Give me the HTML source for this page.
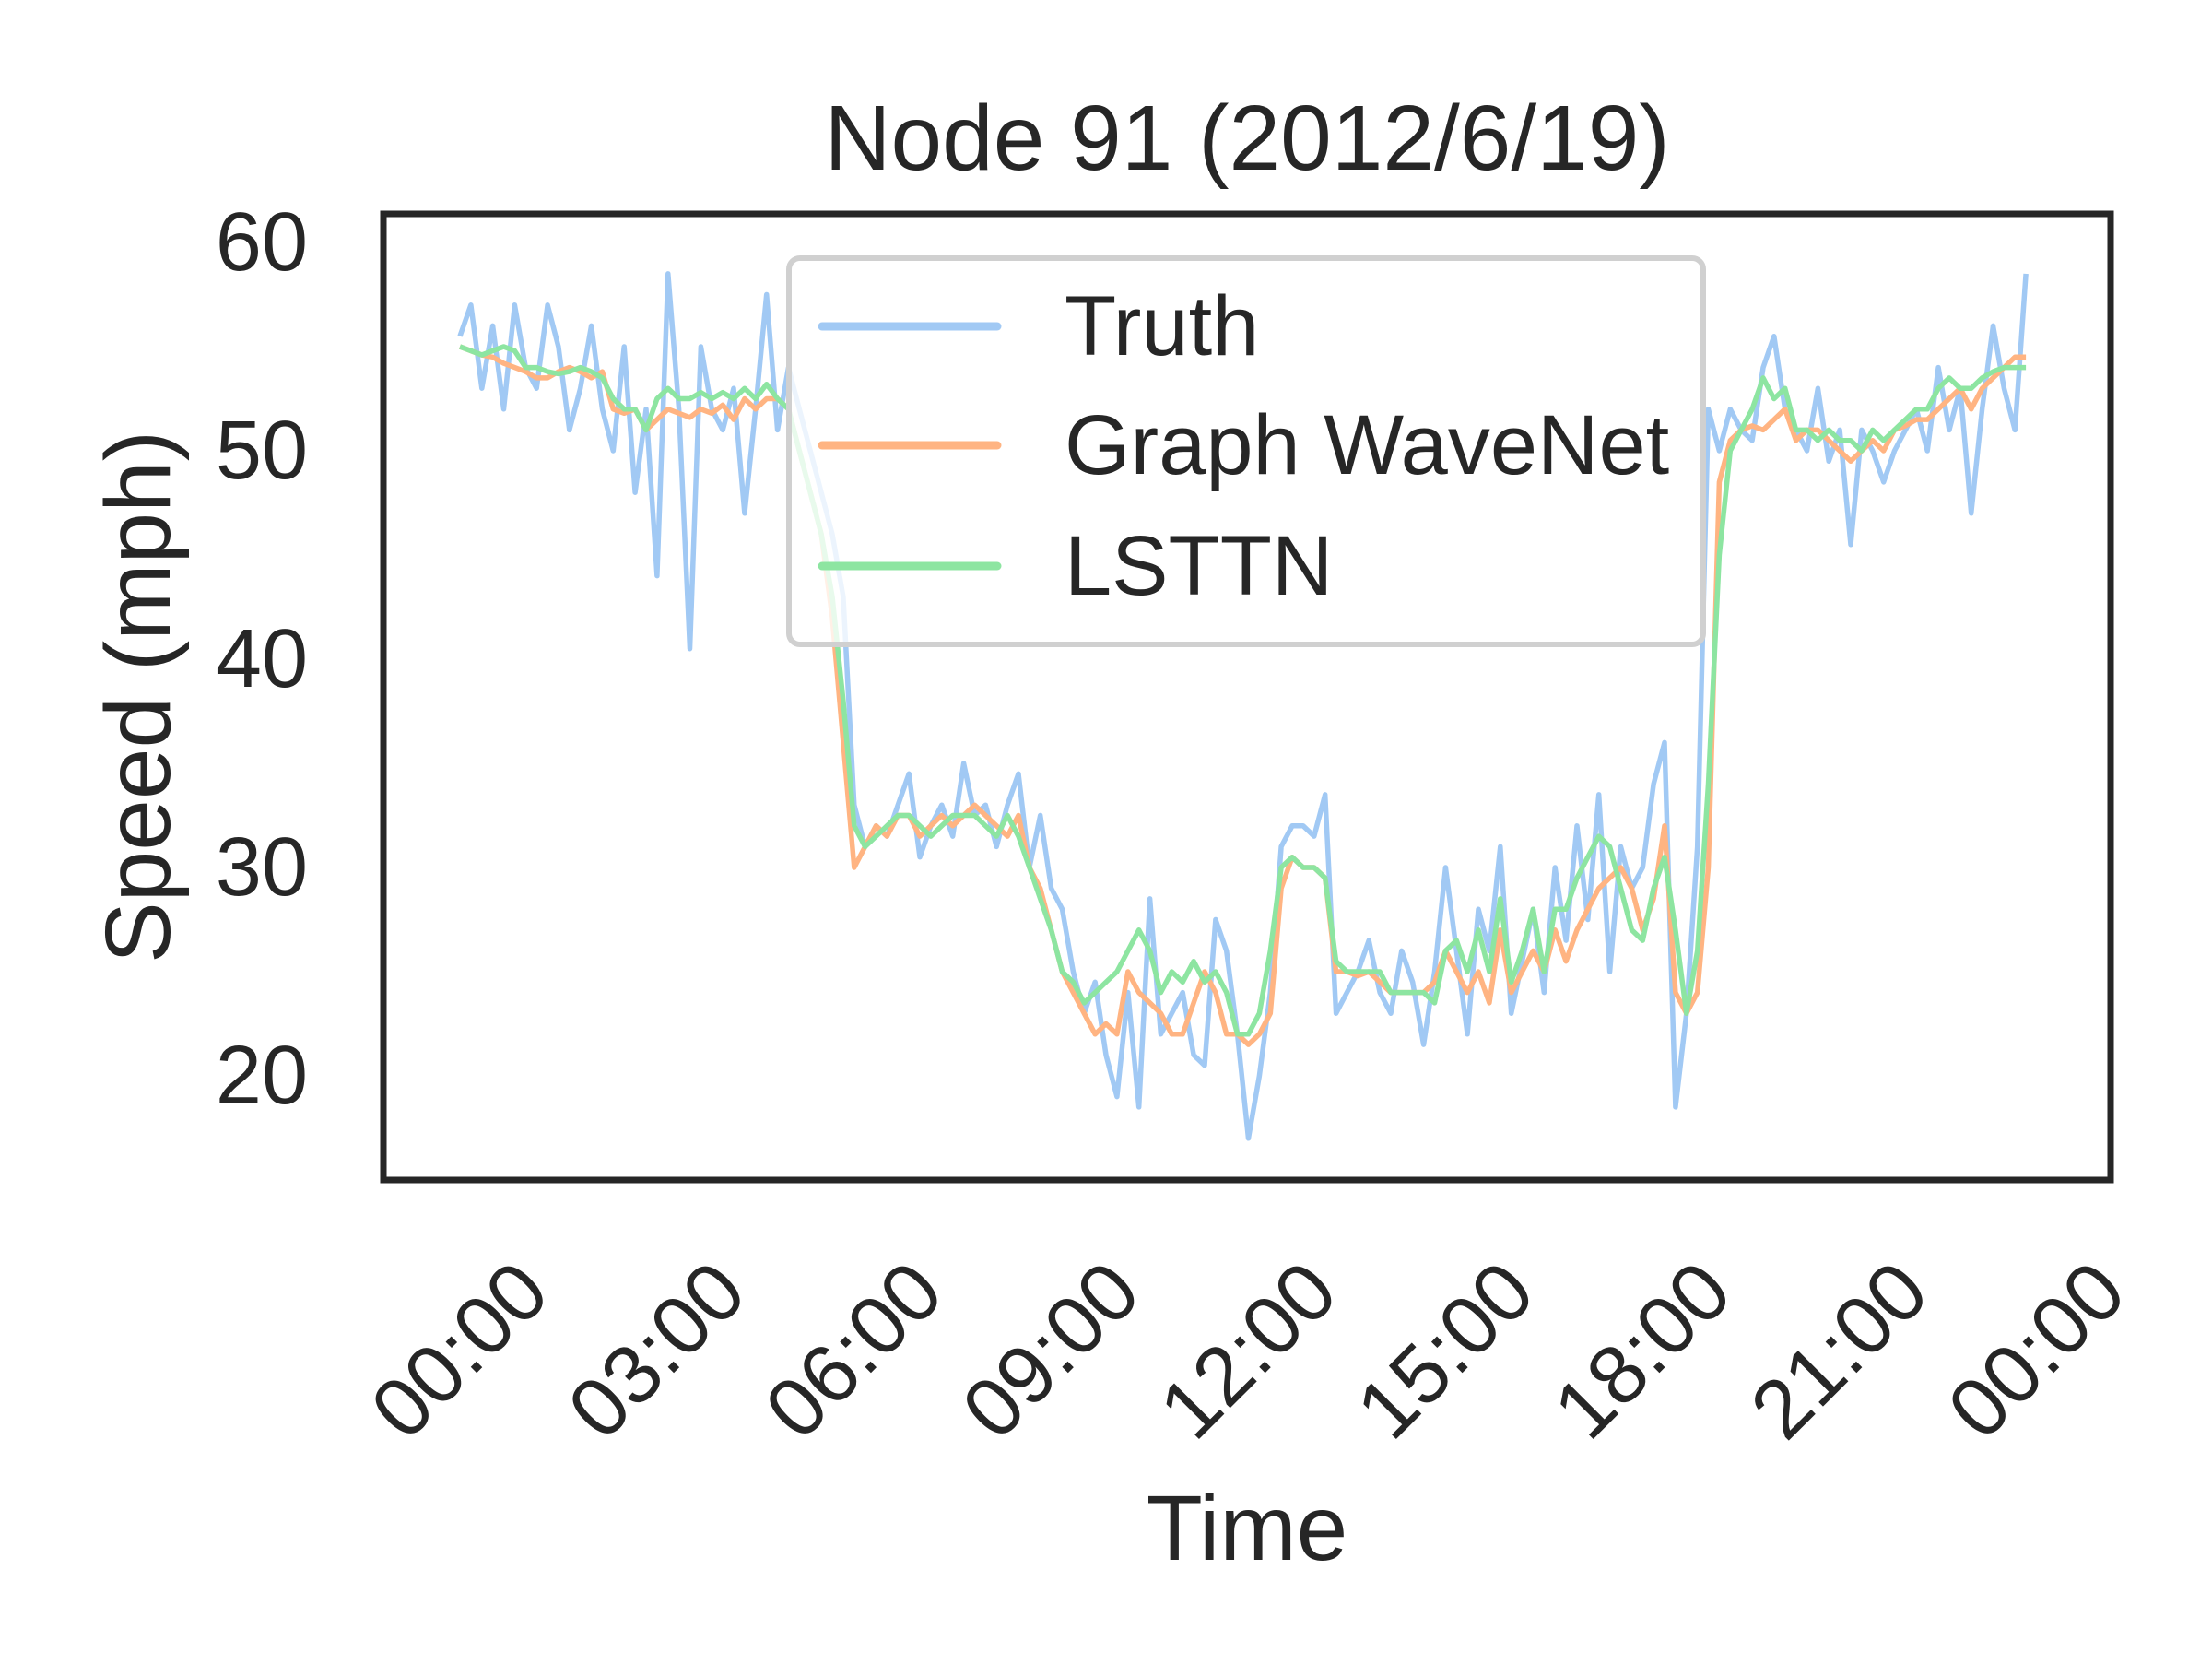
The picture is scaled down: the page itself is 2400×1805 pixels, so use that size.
<!DOCTYPE html>
<html><head><meta charset="utf-8"><style>
html,body{margin:0;padding:0;background:#fff;}
svg text{font-family:"Liberation Sans",Arial,sans-serif;fill:#262626;}
</style></head><body>
<svg id="chart" width="2400" height="1800" viewBox="0 0 2400 1800" xmlns="http://www.w3.org/2000/svg">
<rect width="2400" height="1800" fill="#fff"/>
<text x="1353" y="150" font-size="100" text-anchor="middle" dominant-baseline="central">Node 91 (2012/6/19)</text>
<g id="series"></g>
<g id="yticks"></g>
<g id="xticks"></g>
<rect x="416" y="232" width="1874" height="1048" fill="none" stroke="#262626" stroke-width="7"/>
<text transform="translate(150,756) rotate(-90)" font-size="100" text-anchor="middle" dominant-baseline="central">Speed (mph)</text>
<text x="1353" y="1658" font-size="100" text-anchor="middle" dominant-baseline="central">Time</text>
<g>
<rect x="856" y="280" width="992" height="419" rx="12" fill="#fff" fill-opacity="0.8" stroke="#d0d0d0" stroke-width="6"/>
<line x1="892" y1="354" x2="1082" y2="354" stroke="#a1c9f4" stroke-width="9" stroke-linecap="round"/>
<text x="1155" y="354" font-size="92" dominant-baseline="central">Truth</text>
<line x1="892" y1="483" x2="1082" y2="483" stroke="#ffb482" stroke-width="9" stroke-linecap="round"/>
<text x="1155" y="483" font-size="92" dominant-baseline="central">Graph WaveNet</text>
<line x1="892" y1="614" x2="1082" y2="614" stroke="#8de5a1" stroke-width="9" stroke-linecap="round"/>
<text x="1155" y="614" font-size="92" dominant-baseline="central">LSTTN</text>
</g>
</svg>
<script>
const truth = [55.5,57,53,56,52,57, 54,53,57,55,51,53, 56,52,50,55,48,52, 44,58.5,52,40.5,55,52,
 51,53,47,52,57.5,51, 54,52,50,48,46,43, 33,31,32,31.5,33,34.5, 30.5,32,33,31.5,35,32.5,
 33,31,33,34.5,30,32.5, 29,28,25,23,24.5,21, 19,24,18.5,28.5,22,23, 24,21,20.5,27.5,26,22,
 17,20,24,31,32,32, 31.5,33.5,23,24,25,26.5, 24,23,26,24.5,21.5,25, 30,26,22,28,26,31,
 23,25.5,28,24,30,26.5, 32,27.5,33.5,25,31,29, 30,34,36,18.5,23,31, 52,50,52,51,50.5,54,
 55.5,52,51,50,53,49.5, 51,45.5,51,50,48.5,50, 51,52,50,54,51,53, 47,52,56,53,51,58.5];
const gwn = [55,54.8,54.6,54.5,54.2,54, 53.8,53.5,53.5,53.8,54,53.8, 53.5,53.8,52,51.8,52,51, 51.5,52,51.8,51.6,52,51.8,
 52.2,51.5,52.5,52,52.5,52.5, 52,50,48,46,42,36, 30,31,32,31.5,32.5,32.5, 31.5,32,32.5,32,32.5,33,
 32.5,32,31.5,32.5,30,29, 27,25,24,23,22,22.5, 22,25,24,23.5,23,22, 22,23.5,25,24,22,22,
 21.5,22,23,29,30.5,30, 30,29.5,25,25,24.8,25, 24.5,24,24,24,24,24.5, 26,25,24,25,23.5,27,
 24,25,26,25,27,25.5, 27,28,29,29.5,30,29, 27,28.5,32,24,23,24, 30,48.5,50.5,51,51.2,51,
 51.5,52,50.5,51,51,50.5, 50,49.5,50,50.5,50,51, 51.2,51.5,51.5,52,52.5,53, 52,53,53.5,54,54.5,54.5];
const lsttn = [55,54.8,54.6,54.8,55,54.8, 54,54,53.8,53.7,53.8,54, 53.8,53.5,52.5,52,52,51, 52.5,53,52.5,52.5,52.8,52.5,
 52.8,52.5,53,52.5,53.2,52.5, 52,50,48,46,43,38, 32,31,31.5,32,32.5,32.5, 32,31.5,32,32.5,32.5,32.5,
 32,31.5,32.5,31.5,30,28.5, 27,25,24.5,23.5,24,24.5, 25,26,27,26,24,25, 24.5,25.5,24.5,25,24,22,
 22,23,26,30,30.5,30, 30,29.5,25.5,25,25,25, 25,24,24,24,24,23.5, 26,26.5,25,27,25,28.5,
 24.5,26,28,25,28,28, 29.5,30.5,31.5,31,29,27, 26.5,29,30.5,27,23,26, 34,45,50,51,52,53.5,
 52.5,53,51,51,50.5,51, 50.5,50.5,50,51,50.5,51, 51.5,52,52,53,53.5,53, 53,53.5,53.8,54,54,54];
const yTickValues = [20,30,40,50,60];
const xTickHours = [0,3,6,9,12,15,18,21,24];
const xTickLabels = ["00:00","03:00","06:00","09:00","12:00","15:00","18:00","21:00","00:00"];

const NS = "http://www.w3.org/2000/svg";
function xHour(h){ return 499 + h * (2210 - 499) / 24; }
function yVal(v){ return 263 + (60 - v) * 22.6; }
function xIndex(i, n){ return xHour(i * 24 / n); }

const seriesG = document.getElementById('series');
function drawLine(vals, color, name){
  const n = vals.length;
  const pts = vals.map((v,i)=> xIndex(i,n).toFixed(1)+','+yVal(v).toFixed(1)).join(' ');
  const pl = document.createElementNS(NS,'polyline');
  pl.setAttribute('points', pts);
  pl.setAttribute('fill','none');
  pl.setAttribute('stroke', color);
  pl.setAttribute('stroke-width','5.5');
  pl.setAttribute('stroke-linejoin','round');
  
  
  seriesG.appendChild(pl);
}
drawLine(truth, '#a1c9f4', 'truth-line');
drawLine(gwn, '#ffb482', 'graph-wavenet-line');
drawLine(lsttn, '#8de5a1', 'lsttn-line');

const yg = document.getElementById('yticks');
yTickValues.forEach(v=>{
  const t = document.createElementNS(NS,'text');
  t.setAttribute('x','334');
  t.setAttribute('y', yVal(v).toFixed(1));
  t.setAttribute('font-size','90');
  t.setAttribute('text-anchor','end');
  t.setAttribute('dominant-baseline','central');
  
  
  t.textContent = String(v);
  yg.appendChild(t);
});
const xg = document.getElementById('xticks');
xTickHours.forEach((h,i)=>{
  const x = xHour(h);
  const t = document.createElementNS(NS,'text');
  t.setAttribute('transform','translate('+x.toFixed(1)+',1465) rotate(-45)');
  t.setAttribute('font-size','90');
  t.setAttribute('text-anchor','middle');
  t.setAttribute('dominant-baseline','central');
  
  
  t.textContent = xTickLabels[i];
  xg.appendChild(t);
});
</script>
</body></html>
